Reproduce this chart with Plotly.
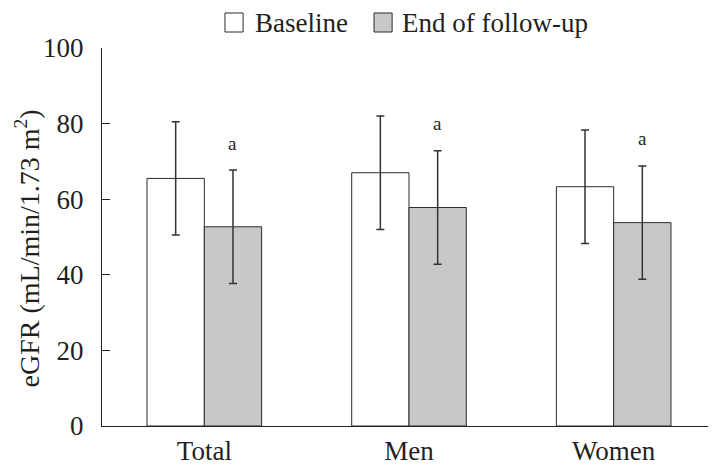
import plotly.graph_objects as go

categories = ["Total", "Men", "Women"]
baseline = [65.5, 67.0, 63.3]
followup = [52.7, 57.8, 53.8]
baseline_sd = [15.0, 15.0, 15.0]
followup_sd = [15.0, 15.0, 15.0]
sig_labels = ["a", "a", "a"]
y_ticks = [0, 20, 40, 60, 80, 100]
series_names = ["Baseline", "End of follow-up"]
series_colors = ["white", "#c8c8c8"]
y_title = "eGFR (mL/min/1.73 m<sup>2</sup>)"

FONT = "Liberation Serif"
EDGE = "#2b2b2b"
TXT = "#231f20"

fig = go.Figure()
for name, vals, sd, col in zip(series_names, [baseline, followup], [baseline_sd, followup_sd], series_colors):
    fig.add_trace(go.Bar(
        x=categories, y=vals, name=name, showlegend=False,
        marker=dict(color=col, line=dict(color=EDGE, width=1)),
        error_y=dict(type="data", array=sd, visible=True, color="#333333", thickness=1.5, width=4),
    ))

for i, (lab, v, sd) in enumerate(zip(sig_labels, followup, followup_sd)):
    fig.add_annotation(x=i + 0.14, y=v + sd, text=lab, showarrow=False,
                       yshift=27, font=dict(family=FONT, size=19, color=TXT),
                       xref="x", yref="y")

# manual legend (squares + labels) above the plot
legend_x = [0.2003, 0.443]
text_x = [0.2454, 0.4853]
for name, col, lx, tx in zip(series_names, series_colors, legend_x, text_x):
    fig.add_shape(type="rect", xref="paper", yref="paper",
                  x0=lx, x1=lx + 0.0295, y0=1.0423, y1=1.0926,
                  fillcolor=col, line=dict(color=EDGE, width=1))
    fig.add_annotation(xref="paper", yref="paper", x=tx, y=1.066, text=name,
                       showarrow=False, xanchor="left", yanchor="middle",
                       font=dict(family=FONT, size=27, color=TXT))

# y-axis title as rotated annotation (positioned like the reference)
fig.add_annotation(xref="paper", yref="paper", x=-0.122, y=0.47, text=y_title,
                   textangle=-90, showarrow=False, xanchor="center", yanchor="middle",
                   font=dict(family=FONT, size=28, color=TXT))

# page body has an 8px margin, so the figure is 8px smaller than the window
fig.update_layout(
    width=708, height=463,
    margin=dict(l=94, r=0, t=40, b=45),
    paper_bgcolor="white", plot_bgcolor="white",
    barmode="group", bargap=0.44, bargroupgap=0,
    font=dict(family=FONT, size=27, color=TXT),
    showlegend=False,
)
fig.update_xaxes(showline=True, linecolor="#222", linewidth=1.2, ticks="", showgrid=False,
                 range=[-0.5, 2.5], tickfont=dict(family=FONT, size=27, color=TXT),
                 automargin=False)
fig.update_yaxes(range=[0, 100], tickvals=y_ticks, showline=True, linecolor="#222", linewidth=1.2,
                 ticks="inside", ticklen=8, tickcolor="#222", showgrid=False, zeroline=False,
                 tickfont=dict(family=FONT, size=27, color=TXT), ticklabelstandoff=12,
                 automargin=False)

fig.write_html("out.html")
